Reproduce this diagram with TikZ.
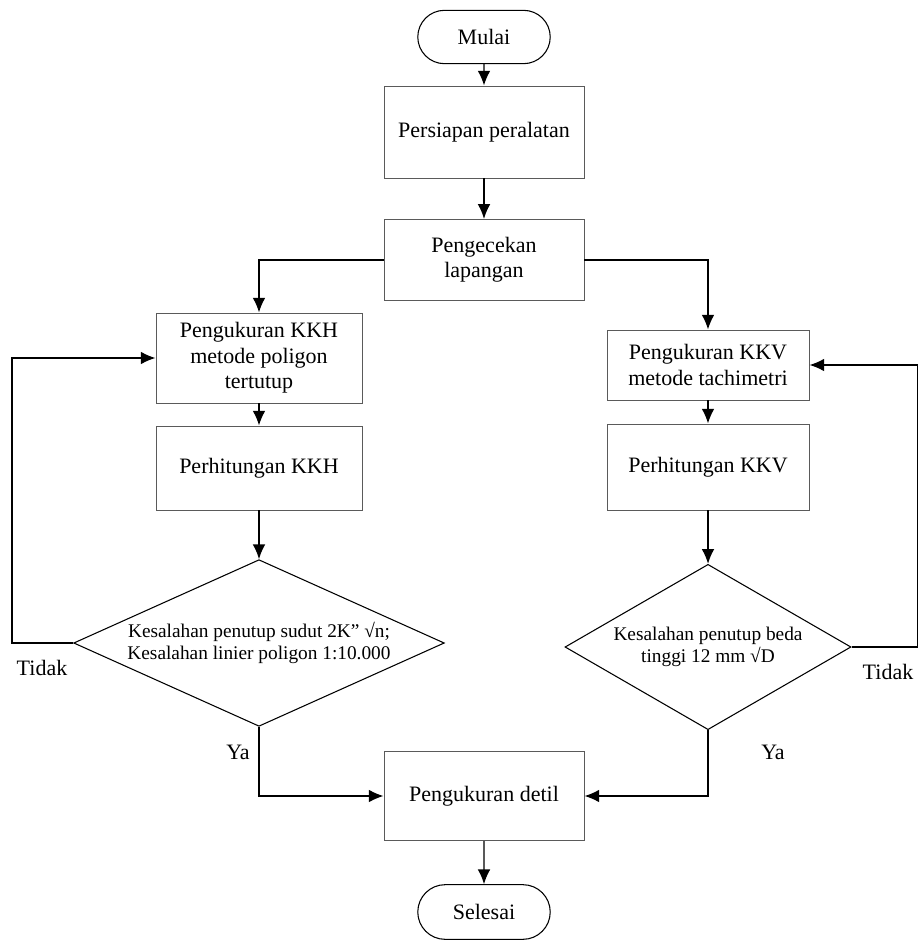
\documentclass[tikz,border=0pt]{standalone}
\usepackage{fontspec}
\setmainfont{Liberation Serif}
\usepackage{tikz}
\usetikzlibrary{shapes.misc}
\usetikzlibrary{shapes.geometric}
\usetikzlibrary{arrows.meta,calc}
\definecolor{garis} {RGB} {90, 90, 90}
\tikzstyle{alur}=[
  >={Latex[length=11pt,width=9.5pt]}, line width=1.1pt, font=\fontsize{16.5}{19}\selectfont
]
\tikzstyle{proses}=[rectangle, draw=garis, line width=0.7pt, align=center]
\tikzstyle{terminal}=[rounded rectangle, draw=black, line width=0.8pt, minimum width=106pt, minimum height=40pt]
\tikzstyle{keputusan}=[diamond, draw=black, line width=0.8pt, inner sep=0pt]
\tikzstyle{isian}=[align=center, font=\fontsize{14.5}{17}\selectfont]

\begin{document}
\begin{tikzpicture}[alur, x=0.75pt, y=-0.75pt]
      \useasboundingbox (0,0) rectangle (918,941);
      \node[terminal] (mulai) at (484,37) {Mulai};
      \node[proses, minimum width=150pt, minimum height=69pt] (persiapan) at (484,132) {Persiapan peralatan};
      \node[proses, minimum width=150pt, minimum height=61pt] (cek) at (484,260) {Pengecekan\\lapangan};
      \node[proses, minimum width=154.5pt, minimum height=67.5pt] (kkh) at (259,358) {Pengukuran KKH\\metode poligon\\tertutup};
      \node[proses, minimum width=151.5pt, minimum height=52.5pt] (kkv) at (708,365) {Pengukuran KKV\\metode tachimetri};
      \node[proses, minimum width=154.5pt, minimum height=63pt] (hitkkh) at (259,468) {Perhitungan KKH};
      \node[proses, minimum width=151.5pt, minimum height=64.5pt] (hitkkv) at (708,467) {Perhitungan KKV};
      \node[keputusan, minimum width=278pt, minimum height=125pt,
        label={[isian]center:{Kesalahan penutup sudut 2K” √n;\\Kesalahan linier poligon 1:10.000}}] (ujikkh) at (259,643) {};
      \node[keputusan, minimum width=214.5pt, minimum height=124pt,
        label={[isian]center:{Kesalahan penutup beda\\tinggi 12 mm √D}}] (ujikkv) at (708,647) {};
      \node[proses, minimum width=150pt, minimum height=67pt] (detil) at (484,796) {Pengukuran detil};
      \node[terminal, minimum height=41pt] (selesai) at (484,912) {Selesai};
      \node (tidakkiri) at (42,668) {Tidak};
      \node (tidakkanan) at (888,672) {Tidak};
      \node (yakiri) at (238,752) {Ya};
      \node (yakanan) at (773,752) {Ya};
      \coordinate (kiri) at (12,0);
      \coordinate (kanan) at (917.5,0);

      \draw[->] (mulai) -- (persiapan);
      \draw[->] (persiapan) -- (cek);
      \draw[->] (cek.west) -| (kkh.north);
      \draw[->] (cek.east) -| (kkv.north);
      \draw[->] (kkh) -- (hitkkh);
      \draw[->] (hitkkh) -- (ujikkh);
      \draw[->] (kkv) -- (hitkkv);
      \draw[->] (hitkkv) -- (ujikkv);
      \draw[->] (ujikkh.west) -- (ujikkh.west -| kiri) |- (kkh.west);
      \draw[->] (ujikkv.east) -- (ujikkv.east -| kanan) |- (kkv.east);
      \draw[->] (ujikkh.south) |- (detil.west);
      \draw[->] (ujikkv.south) |- (detil.east);
      \draw[->] (detil) -- (selesai);
    \end{tikzpicture}
\end{document}
